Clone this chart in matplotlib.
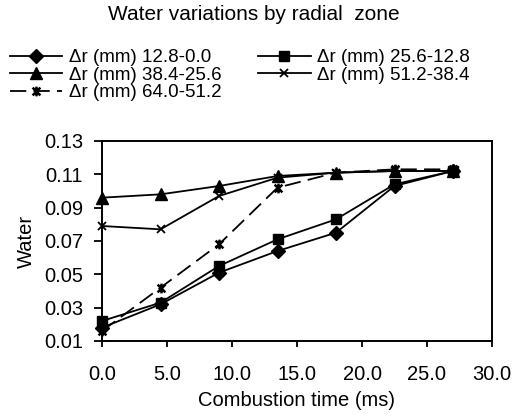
import matplotlib
matplotlib.use("Agg")
import matplotlib.pyplot as plt
from matplotlib.path import Path

plt.rcParams['font.family'] = ['Liberation Sans', 'DejaVu Sans']

time_ms = [0.0, 4.5, 9.0, 13.5, 18.0, 22.5, 27.0]
zone_labels = ["Δr (mm) 12.8-0.0", "Δr (mm) 25.6-12.8", "Δr (mm) 38.4-25.6",
               "Δr (mm) 51.2-38.4", "Δr (mm) 64.0-51.2"]
water_12_8 = [0.018, 0.032, 0.051, 0.064, 0.075, 0.103, 0.112]
water_25_6 = [0.022, 0.033, 0.055, 0.071, 0.083, 0.104, 0.112]
water_38_4 = [0.096, 0.098, 0.103, 0.109, 0.111, 0.112, 0.112]
water_51_2 = [0.079, 0.077, 0.097, 0.108, 0.111, 0.112, 0.112]
water_64_0 = [0.016, 0.042, 0.068, 0.102, 0.111, 0.113, 0.113]
x_ticks = [0, 5, 10, 15, 20, 25, 30]
y_ticks = [0.01, 0.03, 0.05, 0.07, 0.09, 0.11, 0.13]

FS = 14.5
LFS = 13.5

star = Path([(0, -1), (0, 1), (-0.8, -0.8), (0.8, 0.8), (-0.8, 0.8), (0.8, -0.8)],
            [Path.MOVETO, Path.LINETO, Path.MOVETO, Path.LINETO, Path.MOVETO, Path.LINETO])

fig = plt.figure(figsize=(5.15, 4.18), dpi=100)
ax = fig.add_axes([102/515, 1 - 341/418, (492-102)/515, (341-141)/418])

lw = 1.3
h = []
h += ax.plot(time_ms, water_12_8, color='black', lw=lw, marker='D', ms=7, label=zone_labels[0], clip_on=False)
h += ax.plot(time_ms, water_25_6, color='black', lw=lw, marker='s', ms=7.5, label=zone_labels[1], clip_on=False)
h += ax.plot(time_ms, water_38_4, color='black', lw=lw, marker='^', ms=8.5, label=zone_labels[2], clip_on=False)
h += ax.plot(time_ms, water_51_2, color='black', lw=lw, marker='x', ms=6, mew=1.3, label=zone_labels[3], clip_on=False)
h += ax.plot(time_ms, water_64_0, color='black', lw=lw, marker=star, ms=7, mew=1.8,
             linestyle=(0, (9, 4)), label=zone_labels[4], clip_on=False)

ax.set_xlim(0, 30)
ax.set_ylim(0.01, 0.13)
ax.set_xticks(x_ticks)
ax.set_xticklabels([f"{v:.1f}" for v in x_ticks])
ax.set_yticks(y_ticks)
ax.set_yticklabels([f"{v:.2f}" for v in y_ticks])
ax.tick_params(direction='out', width=1.3, labelsize=FS, colors='black')
ax.tick_params(axis='y', length=5.5, pad=8)
ax.tick_params(axis='x', length=4, pad=13)
for s in ax.spines.values():
    s.set_linewidth(1.4)

ax.set_xlabel("Combustion time (ms)", fontsize=FS, labelpad=5)
ax.set_ylabel("Water", fontsize=FS, labelpad=6)

fig.text(254/515, 1 - 15/418, "Water variations by radial  zone", ha='center', va='center', fontsize=15)

common = dict(loc='upper left', ncol=1, frameon=False, fontsize=LFS, handlelength=2.8,
              handletextpad=0.35, labelspacing=0.02, borderaxespad=0, borderpad=0)
fig.legend([h[0], h[2], h[4]], [zone_labels[0], zone_labels[2], zone_labels[4]],
           bbox_to_anchor=(10/515, 1 - 49/418), **common)
fig.legend([h[1], h[3]], [zone_labels[1], zone_labels[3]],
           bbox_to_anchor=(258/515, 1 - 49/418), **common)

fig.savefig("out.png", dpi=100)
